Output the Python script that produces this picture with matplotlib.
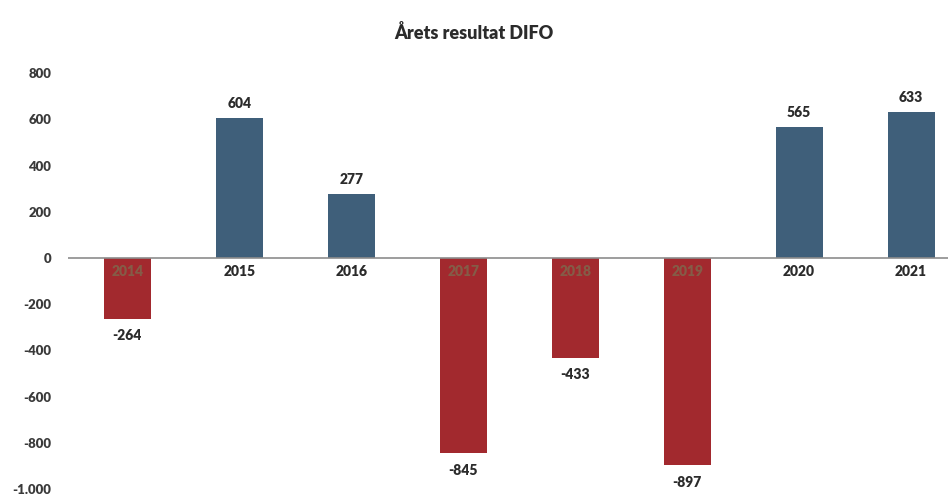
import matplotlib.pyplot as plt
import numpy as np

years = ['2014', '2015', '2016', '2017', '2018', '2019', '2020', '2021']
result = [-264, 604, 277, -845, -433, -897, 565, 633]
yticks = [-1000, -800, -600, -400, -200, 0, 200, 400, 600, 800]
ytick_labels = ['-1.000', '-800', '-600', '-400', '-200', '0', '200', '400', '600', '800']

blue = '#3f5f7a'
red = '#a2292e'

plt.rcParams['font.family'] = ['Lato', 'DejaVu Sans']

fig = plt.figure(figsize=(9.48, 4.95), dpi=100)
ax = fig.add_axes([0.0717, 0.012, 0.9283, 0.8404])

x = np.arange(len(years))
colors = [blue if v >= 0 else red for v in result]
ax.bar(x, result, width=0.42, color=colors, zorder=2)

ax.set_xlim(-0.53, 7.33)
ax.set_ylim(-1000, 800)
ax.axhline(0, color='#8c8c8c', lw=1.2, zorder=3)

for xi, v, yr in zip(x, result, years):
    if v >= 0:
        ax.text(xi, v + 35, str(v), ha='center', va='bottom', fontsize=10,
                fontweight='heavy', color='#2b2b2b')
        ax.text(xi, -30, yr, ha='center', va='top', fontsize=10,
                fontweight='heavy', color='#2b2b2b')
    else:
        ax.text(xi, v - 45, str(v), ha='center', va='top', fontsize=10,
                fontweight='heavy', color='#2b2b2b')
        ax.text(xi, -30, yr, ha='center', va='top', fontsize=10,
                fontweight='heavy', color='#7d6a4e', alpha=0.8)

ax.set_yticks(yticks)
ax.set_yticklabels(ytick_labels, fontsize=9.5, fontweight='heavy', color='#3a3a3a')
ax.tick_params(axis='y', length=0, pad=12)
ax.set_xticks([])
for s in ax.spines.values():
    s.set_visible(False)

fig.text(0.5, 0.933, 'Årets resultat DIFO', ha='center', va='center',
         fontsize=13, fontweight='heavy', color='#2b2b2b')

fig.savefig('out.png', dpi=100)
